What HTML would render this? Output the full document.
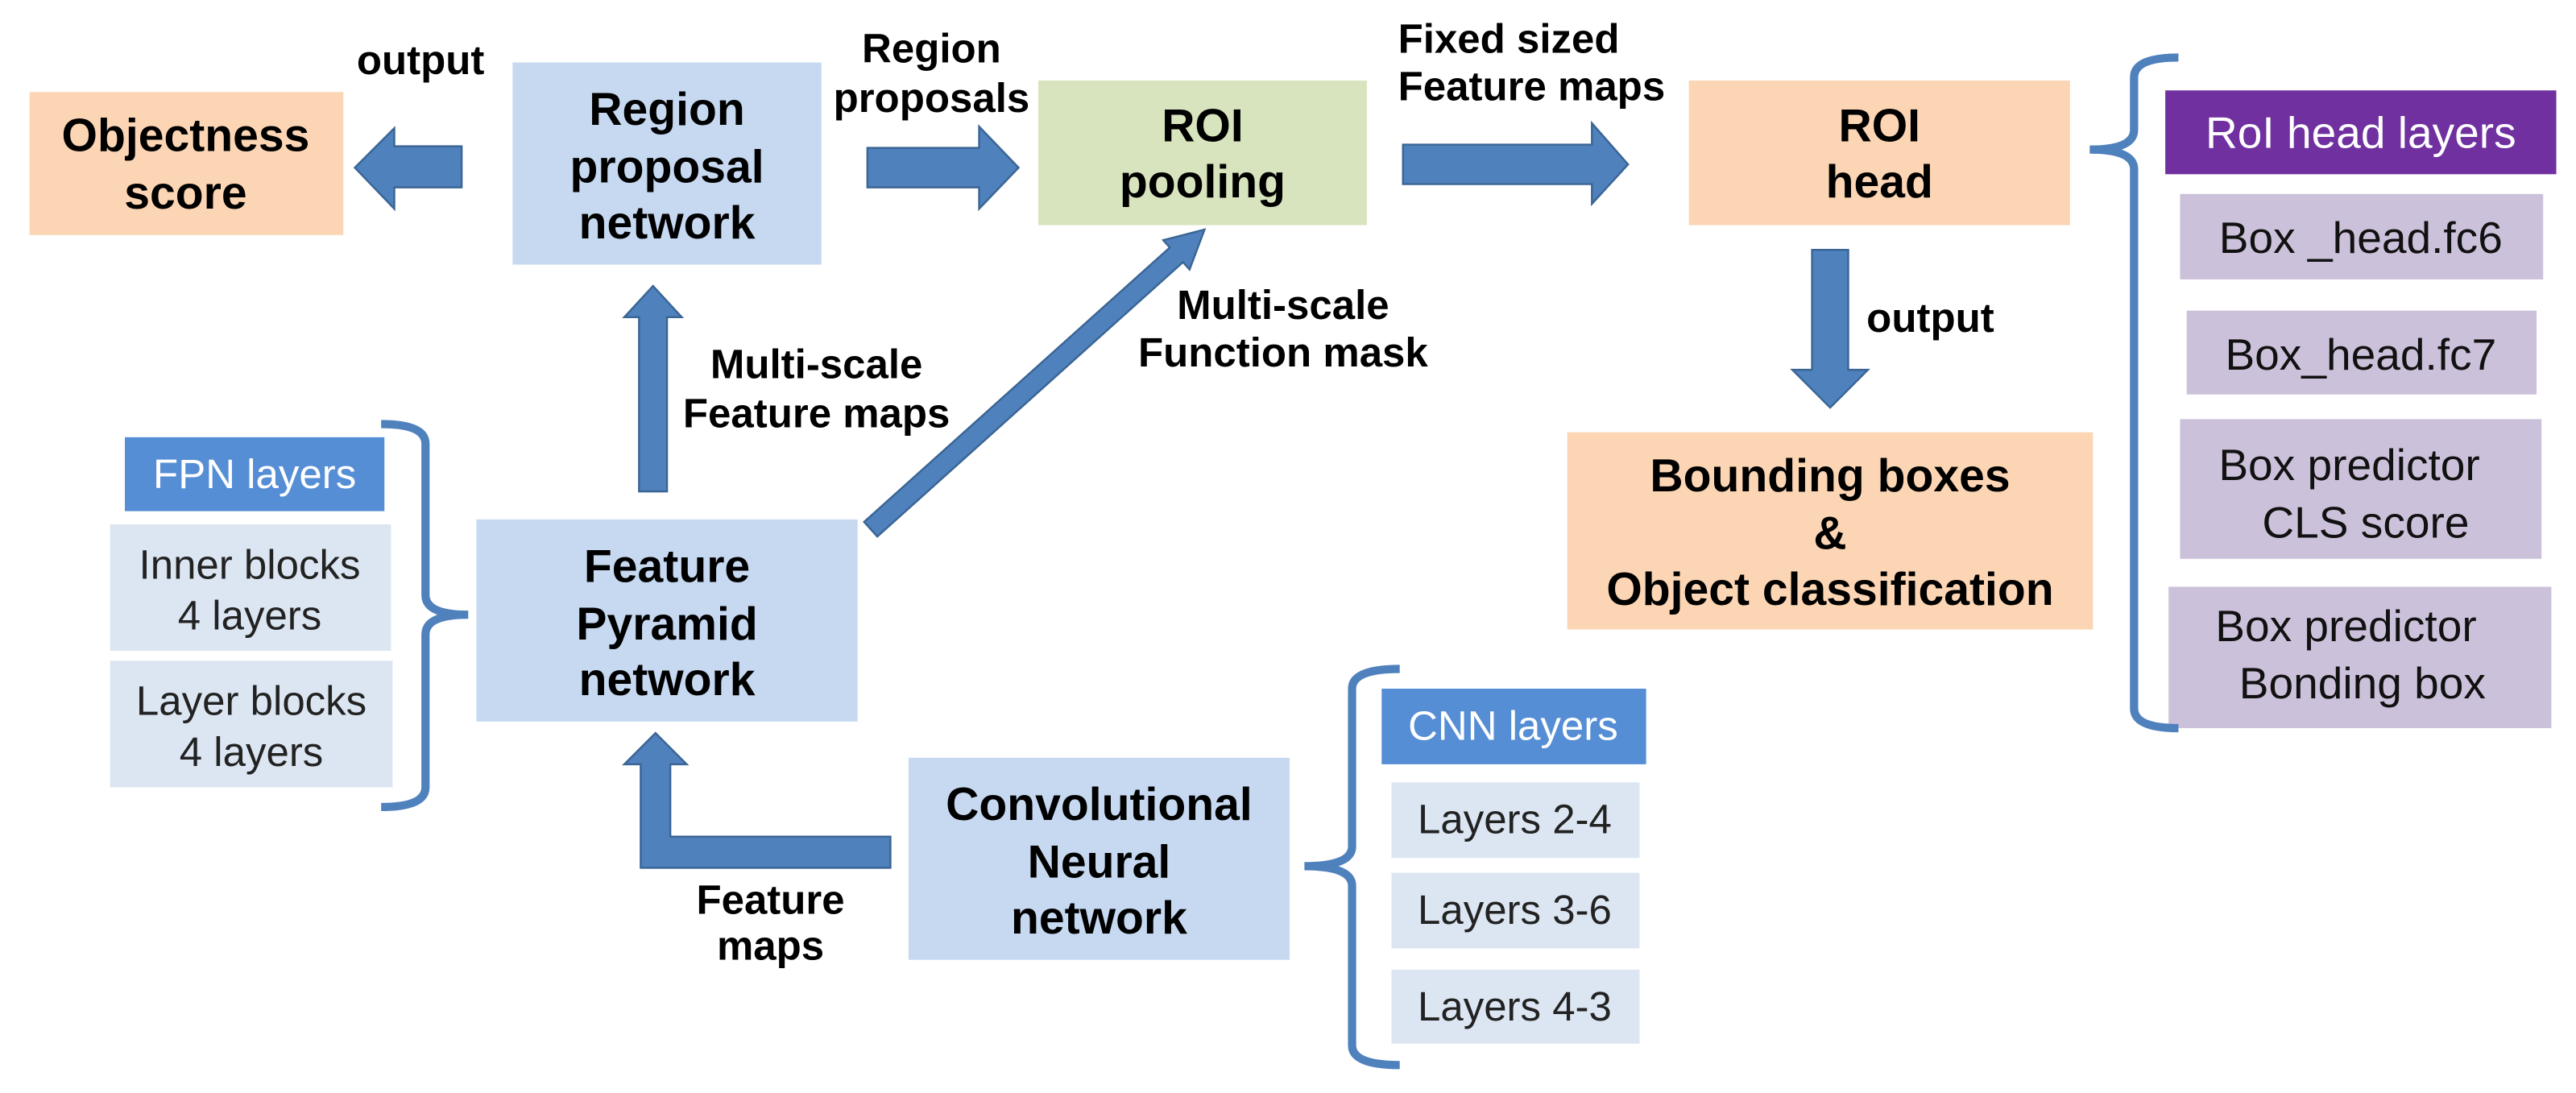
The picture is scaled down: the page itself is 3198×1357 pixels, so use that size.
<!DOCTYPE html>
<html><head><meta charset="utf-8"><style>
html,body{margin:0;padding:0;background:#fff;}
svg{display:block;}
text{font-family:"Liberation Sans",Arial,sans-serif;}
.b{font-weight:bold;font-size:28px;fill:#000;}
.s{font-weight:bold;font-size:25px;fill:#000;}
.r{font-size:25px;fill:#222;}
.r2{font-size:27px;fill:#111;}
.w{font-size:25px;fill:#fff;}
.arr{fill:#4f81bd;stroke:#3a6594;stroke-width:1.2;}
.br{fill:none;stroke:#4f81bd;stroke-width:5;}
</style></head><body>
<svg width="3198" height="1357" viewBox="0 0 1568 665" preserveAspectRatio="none" xmlns="http://www.w3.org/2000/svg">
<rect width="1568" height="665" fill="#fff"/>
<!-- boxes -->
<rect x="18" y="56" width="191" height="87" fill="#fcd5b4"/>
<text class="b" text-anchor="middle" x="113" y="92">Objectness</text>
<text class="b" text-anchor="middle" x="113" y="127">score</text>

<rect x="312" y="38" width="188" height="123" fill="#c6d9f1"/>
<text class="b" text-anchor="middle" x="406" y="76">Region</text>
<text class="b" text-anchor="middle" x="406" y="111">proposal</text>
<text class="b" text-anchor="middle" x="406" y="145">network</text>

<rect x="632" y="49" width="200" height="88" fill="#d7e4bd"/>
<text class="b" text-anchor="middle" x="732" y="86">ROI</text>
<text class="b" text-anchor="middle" x="732" y="120">pooling</text>

<rect x="1028" y="49" width="232" height="88" fill="#fcd5b4"/>
<text class="b" text-anchor="middle" x="1144" y="86">ROI</text>
<text class="b" text-anchor="middle" x="1144" y="120">head</text>

<rect x="954" y="263" width="320" height="120" fill="#fcd5b4"/>
<text class="b" text-anchor="middle" x="1114" y="299">Bounding boxes</text>
<text class="b" text-anchor="middle" x="1114" y="334">&amp;</text>
<text class="b" text-anchor="middle" x="1114" y="368">Object classification</text>

<rect x="290" y="316" width="232" height="123" fill="#c6d9f1"/>
<text class="b" text-anchor="middle" x="406" y="354">Feature</text>
<text class="b" text-anchor="middle" x="406" y="389">Pyramid</text>
<text class="b" text-anchor="middle" x="406" y="423">network</text>

<rect x="553" y="461" width="232" height="123" fill="#c6d9f1"/>
<text class="b" text-anchor="middle" x="669" y="499">Convolutional</text>
<text class="b" text-anchor="middle" x="669" y="534">Neural</text>
<text class="b" text-anchor="middle" x="669" y="568">network</text>

<!-- FPN layers -->
<rect x="76" y="266" width="158" height="45" fill="#558ed5"/>
<text class="w" text-anchor="middle" x="155" y="297">FPN layers</text>
<rect x="67" y="319" width="171" height="77" fill="#dce6f2"/>
<text class="r" text-anchor="middle" x="152" y="352">Inner blocks</text>
<text class="r" text-anchor="middle" x="152" y="383">4 layers</text>
<rect x="67" y="402" width="172" height="77" fill="#dce6f2"/>
<text class="r" text-anchor="middle" x="153" y="435">Layer blocks</text>
<text class="r" text-anchor="middle" x="153" y="466">4 layers</text>

<!-- CNN layers -->
<rect x="841" y="419" width="161" height="46" fill="#558ed5"/>
<text class="w" text-anchor="middle" x="921" y="450">CNN layers</text>
<rect x="847" y="476" width="151" height="46" fill="#dce6f2"/>
<text class="r" text-anchor="middle" x="922" y="507">Layers 2-4</text>
<rect x="847" y="531" width="151" height="46" fill="#dce6f2"/>
<text class="r" text-anchor="middle" x="922" y="562">Layers 3-6</text>
<rect x="847" y="590" width="151" height="45" fill="#dce6f2"/>
<text class="r" text-anchor="middle" x="922" y="621">Layers 4-3</text>

<!-- RoI head layers -->
<rect x="1318" y="55" width="238" height="51" fill="#7030a0"/>
<text class="w" style="font-size:27px" text-anchor="middle" x="1437" y="90">RoI head layers</text>
<rect x="1327" y="118" width="221" height="52" fill="#ccc1da"/>
<text class="r2" text-anchor="middle" x="1437" y="154">Box _head.fc6</text>
<rect x="1331" y="189" width="213" height="51" fill="#ccc1da"/>
<text class="r2" text-anchor="middle" x="1437" y="225">Box_head.fc7</text>
<rect x="1327" y="255" width="220" height="85" fill="#ccc1da"/>
<text class="r2" text-anchor="middle" x="1430" y="292">Box predictor</text>
<text class="r2" text-anchor="middle" x="1440" y="327">CLS score</text>
<rect x="1320" y="357" width="233" height="86" fill="#ccc1da"/>
<text class="r2" text-anchor="middle" x="1428" y="390">Box predictor</text>
<text class="r2" text-anchor="middle" x="1438" y="425">Bonding box</text>

<!-- labels -->
<text class="s" text-anchor="middle" x="256" y="45">output</text>
<text class="s" text-anchor="middle" x="567" y="38">Region</text>
<text class="s" text-anchor="middle" x="567" y="68">proposals</text>
<text class="s" x="851" y="32">Fixed sized</text>
<text class="s" x="851" y="61">Feature maps</text>
<text class="s" text-anchor="middle" x="497" y="230">Multi-scale</text>
<text class="s" text-anchor="middle" x="497" y="260">Feature maps</text>
<text class="s" text-anchor="middle" x="781" y="194">Multi-scale</text>
<text class="s" text-anchor="middle" x="781" y="223">Function mask</text>
<text class="s" text-anchor="middle" x="1175" y="202">output</text>
<text class="s" text-anchor="middle" x="469" y="556">Feature</text>
<text class="s" text-anchor="middle" x="469" y="584">maps</text>

<!-- arrows -->
<polygon class="arr" points="216,102 240,78 240,89 281,89 281,114 240,114 240,127"/>
<polygon class="arr" points="528,90 596,90 596,77 620,102 596,127 596,114 528,114"/>
<polygon class="arr" points="854,88 969,88 969,75 991,100 969,124 969,112 854,112"/>
<polygon class="arr" points="1103,152 1125,152 1125,225 1137,225 1114,248 1091,225 1103,225"/>
<polygon class="arr" points="389,299 406,299 406,193 415,193 397.5,174 380,193 389,193"/>
<g transform="translate(530,322) rotate(-41.9)">
<polygon class="arr" points="0,-6 250,-6 250,-12 273,0 250,12 250,6 0,6"/>
</g>
<polygon class="arr" points="390,528 542,528 542,509 408,509 408,465 418,465 399,446 380,465 390,465"/>

<!-- braces -->
<path class="br" d="M232,258 Q259,258 259,270 L259,362 Q259,374 285,374 Q259,374 259,386 L259,479 Q259,491 232,491"/>
<path class="br" d="M852,407 Q823,407 823,419 L823,515 Q823,527 794,527 Q823,527 823,539 L823,636 Q823,648 852,648"/>
<path class="br" d="M1326,35 Q1299,35 1299,47 L1299,79 Q1299,91 1272,91 Q1299,91 1299,103 L1299,431 Q1299,443 1326,443"/>
</svg>
</body></html>
